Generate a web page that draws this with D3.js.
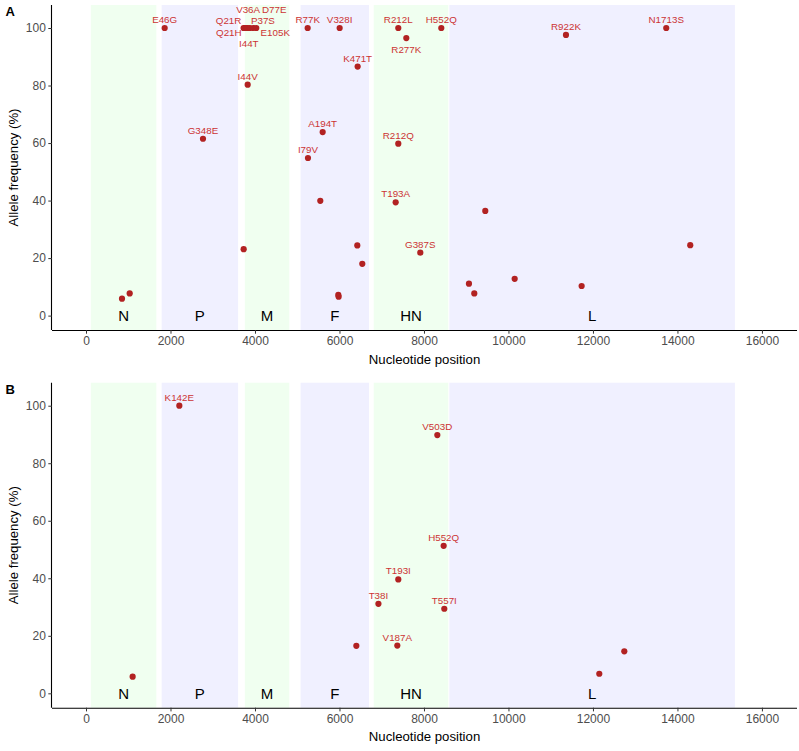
<!DOCTYPE html>
<html>
<head>
<meta charset="utf-8">
<script src="https://cdn.jsdelivr.net/npm/d3@7"></script>
<style>
  body { margin: 0; background: #fff; }
  svg { display: block; font-family: "Liberation Sans", Arial, Helvetica, sans-serif; }
</style>
</head>
<body>
<svg id="chart" width="799" height="751"></svg>
<script>
// ---------------- DATA ----------------
const genes      = ["N", "P", "M", "F", "HN", "L"];
const geneStart  = [115, 1790, 3760, 5080, 6810, 8600];
const geneEnd    = [1665, 3600, 4812, 6698, 8576, 15360];

const xTicks = [0, 2000, 4000, 6000, 8000, 10000, 12000, 14000, 16000];
const yTicks = [0, 20, 40, 60, 80, 100];

// Panel A
const posA   = [1862, 3730, 3760, 3790, 3830, 3880, 3960, 4030, 3827, 2769, 3732,
                5247, 6004, 6430, 5602, 5254, 5546, 6422, 6540, 5972, 5980, 852, 1034,
                7392, 7582, 8410, 11361, 13735, 7392, 7330, 9451, 7913, 14303, 9065, 9191, 10147, 11732];
const freqA  = [100, 100, 100, 100, 100, 100, 100, 100, 80.3, 61.5, 23.1,
                100, 100, 86.6, 63.8, 54.8, 39.9, 24.4, 18.0, 7.2, 6.6, 5.9, 7.7,
                100, 96.5, 100, 97.6, 100, 59.8, 39.4, 36.4, 21.9, 24.5, 11.1, 7.7, 12.8, 10.3];
const labA   = ["E46G", "Q21R", "Q21H", "V36A", "I44T", "P37S", "D77E", "E105K", "I44V", "G348E", "",
                "R77K", "V328I", "K471T", "A194T", "I79V", "", "", "", "", "", "", "",
                "R212L", "R277K", "H552Q", "R922K", "N1713S", "R212Q", "T193A", "", "G387S", "", "", "", "", ""];

// Panel B
const posB   = [2209, 1104, 6399, 6922, 7392, 7369, 8316, 8466, 8481, 12150, 12742];
const freqB  = [100, 5.8, 16.5, 31.1, 39.6, 16.6, 89.8, 51.3, 29.4, 6.8, 14.6];
const labB   = ["K142E", "", "", "T38I", "T193I", "V187A", "V503D", "H552Q", "T557I", "", ""];

// ---------------- LAYOUT ----------------
// label offsets (px, label centre relative to point) for repelled labels
const defaultNudge = [0, -8.5];
const nudgeA = {
  "V36A": [2, -19], "D77E": [21, -19],
  "Q21R": [-15, -8], "P37S": [13, -8],
  "Q21H": [-16, 4],  "E105K": [19, 4],
  "I44T": [1, 15],   "R277K": [0, 11]
};

const svg = d3.select("#chart");
const xLeft = 52, xRight = 797;
const x = d3.scaleLinear().domain([-805, 16830]).range([xLeft, xRight]);

const pointColor = "#b22222";
const labelColor = "#cc3333";
const fills = ["#f0fff0", "#f0f0ff"];

function panel(top, bottom, letter, pos, freq, labs, nudges) {
  const y = d3.scaleLinear().domain([-5, 108]).range([bottom, top]);
  const g = svg.append("g");

  // gene regions
  g.selectAll("rect.gene").data(genes).enter().append("rect")
    .attr("x", (d, i) => x(geneStart[i]))
    .attr("width", (d, i) => x(geneEnd[i]) - x(geneStart[i]))
    .attr("y", top)
    .attr("height", bottom - top)
    .attr("fill", (d, i) => fills[i % 2]);

  g.selectAll("text.gene").data(genes).enter().append("text")
    .attr("x", (d, i) => x((geneStart[i] + geneEnd[i]) / 2))
    .attr("y", y(0))
    .attr("dy", "0.36em")
    .attr("text-anchor", "middle")
    .attr("font-size", 15)
    .attr("fill", "#000")
    .text(d => d);

  // points
  const data = pos.map((p, i) => ({ p, f: freq[i], l: labs[i] }));
  g.selectAll("circle").data(data).enter().append("circle")
    .attr("cx", d => x(d.p))
    .attr("cy", d => y(d.f))
    .attr("r", 3.1)
    .attr("fill", pointColor);

  // labels
  g.selectAll("text.lab").data(data.filter(d => d.l)).enter().append("text")
    .attr("x", d => x(d.p) + (nudges[d.l] || defaultNudge)[0])
    .attr("y", d => y(d.f) + (nudges[d.l] || defaultNudge)[1])
    .attr("dy", "0.36em")
    .attr("text-anchor", "middle")
    .attr("font-size", 9.8)
    .attr("fill", labelColor)
    .text(d => d.l);

  // axes
  const xAxis = d3.axisBottom(x).tickValues(xTicks).tickSize(3.7).tickPadding(3).tickFormat(d3.format("d"));
  const gx = svg.append("g").attr("transform", `translate(0,${bottom})`).call(xAxis);
  gx.select(".domain").attr("d", `M${xLeft},0.5H${xRight}`).attr("stroke", "#000").attr("stroke-width", 1.1);
  gx.selectAll(".tick line").attr("stroke", "#333");
  gx.selectAll(".tick text").attr("fill", "#4d4d4d").attr("font-size", 12)
    .attr("font-family", "'Liberation Sans', Arial, sans-serif");

  const yAxis = d3.axisLeft(y).tickValues(yTicks).tickSize(3.7).tickPadding(2.5);
  const gy = svg.append("g").attr("transform", `translate(${xLeft},0)`).call(yAxis);
  gy.select(".domain").attr("d", `M-0.5,${top}V${bottom}`).attr("stroke", "#000").attr("stroke-width", 1.1);
  gy.selectAll(".tick line").attr("stroke", "#333");
  gy.selectAll(".tick text").attr("fill", "#4d4d4d").attr("font-size", 12)
    .attr("font-family", "'Liberation Sans', Arial, sans-serif");

  // titles
  svg.append("text")
    .attr("x", (xLeft + xRight) / 2)
    .attr("y", bottom + 29)
    .attr("dy", "0.36em")
    .attr("text-anchor", "middle")
    .attr("font-size", 13.2)
    .attr("fill", "#000")
    .text("Nucleotide position");

  svg.append("text")
    .attr("transform", `translate(13.5,${(top + bottom) / 2}) rotate(-90)`)
    .attr("dy", "0.36em")
    .attr("text-anchor", "middle")
    .attr("font-size", 13.2)
    .attr("fill", "#000")
    .text("Allele frequency (%)");

  svg.append("text")
    .attr("x", 5.5)
    .attr("y", top + 10.8)
    .attr("font-size", 13)
    .attr("font-weight", "bold")
    .attr("fill", "#000")
    .text(letter);
}

panel(5, 330, "A", posA, freqA, labA, nudgeA);
panel(382.7, 707.7, "B", posB, freqB, labB, {});
</script>
</body>
</html>
